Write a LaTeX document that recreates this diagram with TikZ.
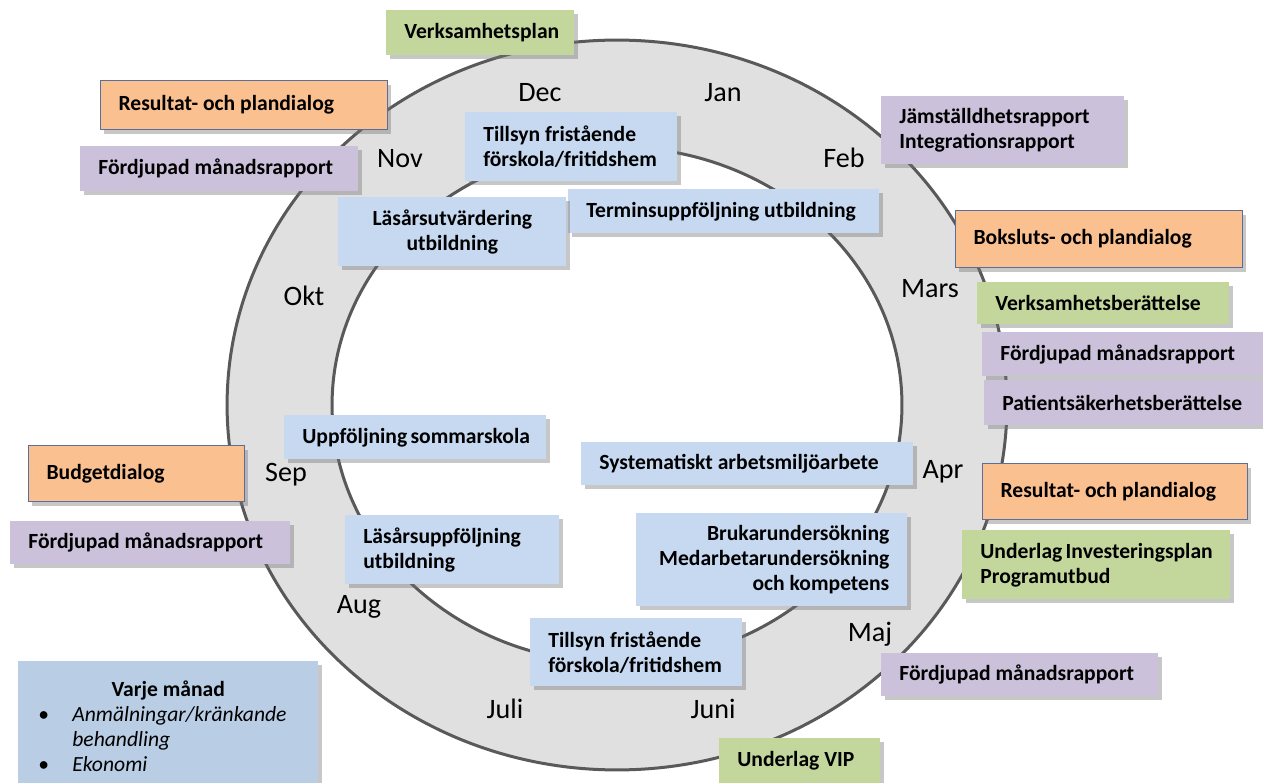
\documentclass[tikz,border=0pt]{standalone}
\usepackage{fontspec}
\setmainfont{Carlito}
\usetikzlibrary{shadows}

\definecolor{ringfill}{HTML}{E0E0E0}
\definecolor{ringline}{HTML}{595959}
\definecolor{plangreen}{HTML}{C3D69B}
\definecolor{dialogorange}{HTML}{FAC090}
\definecolor{dialogline}{HTML}{5A6E9C}
\definecolor{rapportlila}{HTML}{CCC1DA}
\definecolor{aktivblue}{HTML}{C6D9F1}
\definecolor{varjeblue}{HTML}{B9CDE5}

\hyphenpenalty=10000
\exhyphenpenalty=10000

\begin{document}
\begin{tikzpicture}[x=0.02cm, y=-0.02cm,
	box/.style={anchor=north west, inner xsep=0.36cm, inner ysep=0pt, align=flush left,
		font=\fontsize{12.3}{14.2}\selectfont\bfseries,
		drop shadow={shadow xshift=0.07cm, shadow yshift=-0.08cm, fill=black!55, opacity=0.4}},
	plan/.style={box, fill=plangreen},
	dialog/.style={box, fill=dialogorange, draw=dialogline, line width=0.6pt},
	rapport/.style={box, fill=rapportlila},
	aktivitet/.style={box, fill=aktivblue},
	month/.style={anchor=base, font=\fontsize{16}{19}\selectfont}]

	\useasboundingbox (0,0) rectangle (1263,783);

	% the year ring
	\fill[ringfill, even odd rule] (617,405) ellipse [x radius=7.8cm, y radius=7.3cm]
		(617,405) ellipse [x radius=5.7cm, y radius=5.16cm];
	\draw[ringline, line width=0.06cm] (617,405) ellipse [x radius=7.8cm, y radius=7.3cm];
	\draw[ringline, line width=0.06cm] (617,405) ellipse [x radius=5.7cm, y radius=5.16cm];

	% months
	\node[month] (dec)  at (540,102) {Dec};
	\node[month] (jan)  at (723,102) {Jan};
	\node[month] (nov)  at (400,168) {Nov};
	\node[month] (feb)  at (844,168) {Feb};
	\node[month] (okt)  at (304,306) {Okt};
	\node[month] (mars) at (930,298) {Mars};
	\node[month] (sep)  at (286,481) {Sep};
	\node[month] (apr)  at (943,478) {Apr};
	\node[month] (aug)  at (359,613) {Aug};
	\node[month] (maj)  at (870,641) {Maj};
	\node[month] (juli) at (505,718) {Juli};
	\node[month] (juni) at (713,718) {Juni};

	% outside the ring
	\node[plan, text width=3.04cm, minimum height=0.9cm] (vplan) at (386,10) {Verksamhetsplan};
	\node[dialog, text width=5.02cm, minimum height=0.98cm] (res1) at (100,80) {Resultat-~och~plandialog};
	\node[rapport, text width=4.84cm, minimum height=0.9cm] (fmr1) at (80,146) {Fördjupad~månadsrapport};
	\node[rapport, text width=4.14cm, minimum height=1.36cm] (jamst) at (881,96) {Jämställdhetsrapport\\Integrationsrapport};
	\node[dialog, text width=5.02cm, minimum height=1.14cm] (boksl) at (955,210) {Boksluts-~och~plandialog};
	\node[plan, text width=4.32cm, minimum height=0.84cm] (vber) at (977,282) {Verksamhetsberättelse};
	\node[rapport, text width=5.08cm, minimum height=0.88cm] (fmr2) at (982,332) {Fördjupad~månadsrapport};
	\node[rapport, text width=5.08cm, minimum height=0.9cm] (patient) at (984,380) {Patientsäkerhetsberättelse};
	\node[dialog, text width=3.6cm, minimum height=1.12cm] (budget) at (28,445) {Budgetdialog};
	\node[rapport, text width=4.88cm, minimum height=0.86cm] (fmr3) at (10,521) {Fördjupad~månadsrapport};
	\node[dialog, text width=4.58cm, minimum height=1.12cm] (res2) at (982,463) {Resultat-~och~plandialog};
	\node[plan, text width=4.64cm, minimum height=1.38cm] (underinv) at (962,530) {Underlag~Investeringsplan\\Programutbud};
	\node[rapport, text width=4.82cm, minimum height=0.86cm] (fmr4) at (881,653) {Fördjupad~månadsrapport};
	\node[plan, text width=2.5cm, minimum height=0.9cm] (vip) at (719,738) {Underlag~VIP};

	% inside the ring
	\node[aktivitet, text width=3.52cm, minimum height=1.38cm] (tillsyn1) at (465,112) {Tillsyn~fristående\\förskola/fritidshem};
	\node[aktivitet, text width=5.5cm, minimum height=0.88cm] (termin) at (568,189) {Terminsuppföljning~utbildning};
	\node[aktivitet, align=flush center, text width=3.84cm, minimum height=1.38cm] (lasutv) at (338,197) {Läsårsutvärdering\\utbildning};
	\node[aktivitet, text width=4.52cm, minimum height=0.88cm] (sommar) at (284,415) {Uppföljning~sommarskola};
	\node[aktivitet, text width=5.92cm, minimum height=0.86cm] (system) at (581,442) {Systematiskt~arbetsmiljöarbete};
	\node[aktivitet, text width=3.56cm, minimum height=1.38cm] (lasupp) at (345,515) {Läsårsuppföljning\\utbildning};
	\node[aktivitet, align=flush right, text width=4.7cm, minimum height=1.86cm] (brukar) at (636,513) {Brukarundersökning\\Medarbetarundersökning\\och~kompetens};
	\node[aktivitet, text width=3.52cm, minimum height=1.36cm] (tillsyn2) at (530,618) {Tillsyn~fristående\\förskola/fritidshem};

	% every month
	\node[box, fill=varjeblue, font=\fontsize{12.3}{14.2}\selectfont, inner xsep=0.4cm,
		text width=5.2cm, minimum height=2.6cm] (varje) at (18,661)
		{\makebox[5.2cm]{\bfseries Varje~månad}\\
		\makebox[0.68cm][l]{\textbullet}\textit{Anmälningar/kränkande}\\
		\hspace*{0.68cm}\textit{behandling}\\
		\makebox[0.68cm][l]{\textbullet}\textit{Ekonomi}};

\end{tikzpicture}
\end{document}
